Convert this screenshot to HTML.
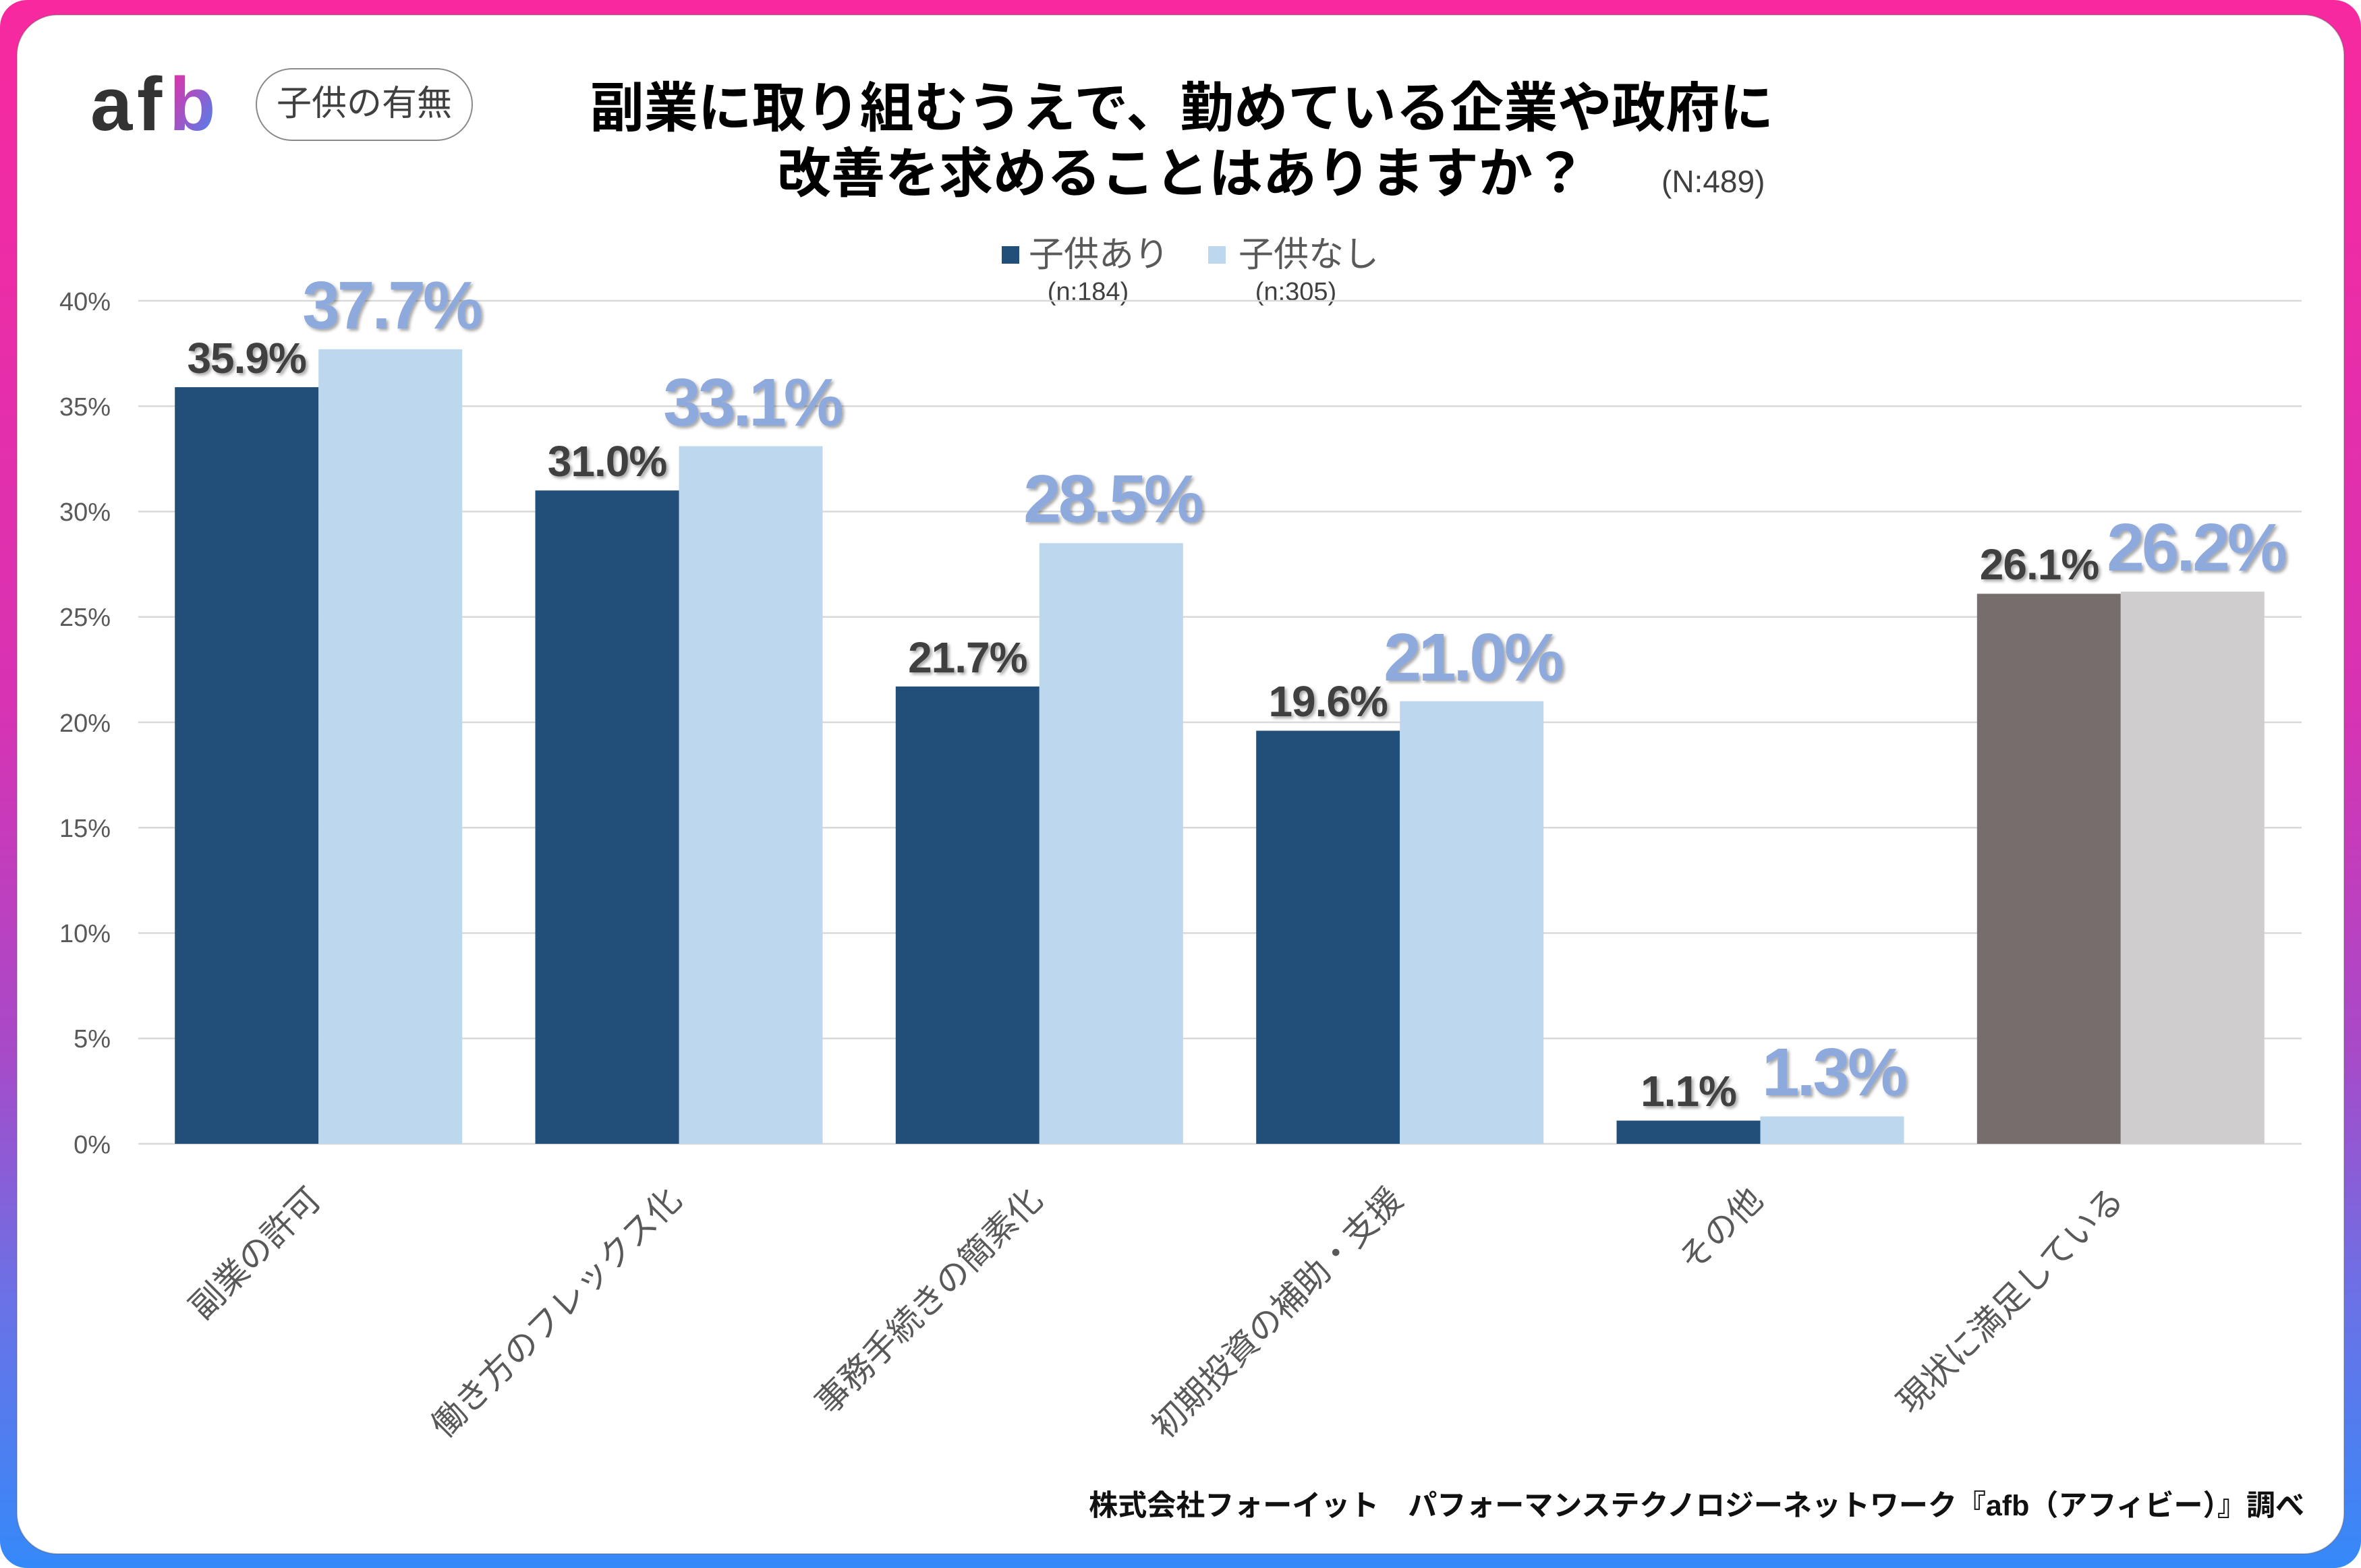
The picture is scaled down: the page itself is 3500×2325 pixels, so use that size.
<!DOCTYPE html>
<html><head><meta charset="utf-8">
<style>
html,body{margin:0;padding:0;background:#fff;}
svg{display:block;}
.jp{font-family:"Liberation Sans","Noto Sans CJK JP",sans-serif;}
.lat{font-family:"Liberation Sans",sans-serif;}
</style></head>
<body>
<svg width="3500" height="2325" viewBox="0 0 3500 2325" xmlns="http://www.w3.org/2000/svg">
<defs>
<linearGradient id="frame" x1="0" y1="0" x2="0" y2="1">
<stop offset="0" stop-color="#f8299f"/>
<stop offset="0.45" stop-color="#d733b3"/>
<stop offset="0.67" stop-color="#a84ac8"/>
<stop offset="0.83" stop-color="#6a72e6"/>
<stop offset="1" stop-color="#3589f9"/>
</linearGradient>
<linearGradient id="bgrad" x1="0" y1="0" x2="1" y2="1">
<stop offset="0" stop-color="#f4279f"/>
<stop offset="1" stop-color="#3d8bf5"/>
</linearGradient>
<filter id="sh" x="-10%" y="-10%" width="130%" height="140%">
<feDropShadow dx="3" dy="3" stdDeviation="2.5" flood-color="#000" flood-opacity="0.35"/>
</filter>
</defs>

<!-- frame -->
<rect x="0" y="0" width="3500" height="2325" rx="40" ry="40" fill="url(#frame)"/>
<rect x="25" y="22" width="3450" height="2282" rx="60" ry="60" fill="#fff" stroke="#555" stroke-opacity="0.35" stroke-width="2"/>

<!-- logo -->
<g class="lat" font-size="112" font-weight="bold" fill="#333">
<text x="134" y="193">a</text>
<text x="203" y="193">f</text>
<text x="251" y="193" fill="url(#bgrad)">b</text>
</g>

<!-- pill -->
<rect x="380" y="102" width="320" height="106" rx="53" ry="53" fill="#fff" stroke="#8a8a8a" stroke-width="2"/>
<text class="jp" x="540" y="171" font-size="52" fill="#404040" text-anchor="middle">子供の有無</text>

<!-- title -->
<g class="jp" font-size="80" font-weight="bold" fill="#000" text-anchor="middle">
<text x="1752" y="188">副業に取り組むうえで、勤めている企業や政府に</text>
<text x="1752" y="285">改善を求めることはありますか？</text>
</g>
<text class="lat" x="2463" y="285" font-size="46" fill="#404040">(N:489)</text>

<!-- legend -->
<rect x="1485" y="365" width="26" height="26" fill="#224f7a"/>
<text class="jp" x="1525" y="395" font-size="52" fill="#595959">子供あり</text>
<rect x="1791" y="365" width="26" height="26" fill="#bdd7ee"/>
<text class="jp" x="1836" y="395" font-size="52" fill="#595959">子供なし</text>
<g class="lat" font-size="38" fill="#404040" text-anchor="middle">
<text x="1613" y="445">(n:184)</text>
<text x="1921" y="445">(n:305)</text>
</g>

<!-- gridlines -->
<g stroke="#d9d9d9" stroke-width="2.5">
<line x1="205" x2="3412" y1="446" y2="446"/>
<line x1="205" x2="3412" y1="602.25" y2="602.25"/>
<line x1="205" x2="3412" y1="758.5" y2="758.5"/>
<line x1="205" x2="3412" y1="914.75" y2="914.75"/>
<line x1="205" x2="3412" y1="1071" y2="1071"/>
<line x1="205" x2="3412" y1="1227.25" y2="1227.25"/>
<line x1="205" x2="3412" y1="1383.5" y2="1383.5"/>
<line x1="205" x2="3412" y1="1539.75" y2="1539.75"/>
<line x1="205" x2="3412" y1="1696" y2="1696"/>
</g>

<!-- y tick labels -->
<g class="lat" font-size="38" fill="#595959" text-anchor="end">
<text x="164" y="460">40%</text>
<text x="164" y="616">35%</text>
<text x="164" y="772">30%</text>
<text x="164" y="928">25%</text>
<text x="164" y="1085">20%</text>
<text x="164" y="1241">15%</text>
<text x="164" y="1397">10%</text>
<text x="164" y="1553">5%</text>
<text x="164" y="1710">0%</text>
</g>

<!-- bars -->
<g>
<rect x="259.2" y="574.1" width="213" height="1121.9" fill="#224f7a"/>
<rect x="472.2" y="517.9" width="213" height="1178.1" fill="#bdd7ee"/>
<rect x="793.5" y="727.25" width="213" height="968.75" fill="#224f7a"/>
<rect x="1006.5" y="661.6" width="213" height="1034.4" fill="#bdd7ee"/>
<rect x="1327.8" y="1017.9" width="213" height="678.1" fill="#224f7a"/>
<rect x="1540.8" y="805.4" width="213" height="890.6" fill="#bdd7ee"/>
<rect x="1862.2" y="1083.5" width="213" height="612.5" fill="#224f7a"/>
<rect x="2075.2" y="1039.75" width="213" height="656.25" fill="#bdd7ee"/>
<rect x="2396.5" y="1661.6" width="213" height="34.4" fill="#224f7a"/>
<rect x="2609.5" y="1655.4" width="213" height="40.6" fill="#bdd7ee"/>
<rect x="2930.8" y="880.4" width="213" height="815.6" fill="#766e6d"/>
<rect x="3143.8" y="877.25" width="213" height="818.75" fill="#d0cdce"/>
</g>

<!-- data labels -->
<g class="lat" font-weight="bold" text-anchor="middle" filter="url(#sh)">
<g font-size="64" fill="#404040" letter-spacing="-1">
<text x="365.7" y="553">35.9%</text>
<text x="900" y="706">31.0%</text>
<text x="1434.3" y="997">21.7%</text>
<text x="1968.7" y="1062">19.6%</text>
<text x="2503" y="1640">1.1%</text>
<text x="3023" y="859">26.1%</text>
</g>
<g font-size="100" fill="#8eaadc" letter-spacing="-4">
<text x="580" y="487">37.7%</text>
<text x="1115" y="631">33.1%</text>
<text x="1649" y="774">28.5%</text>
<text x="2183" y="1009">21.0%</text>
<text x="2718" y="1624">1.3%</text>
<text x="3255" y="846">26.2%</text>
</g>
</g>

<!-- x labels -->
<g class="jp" font-size="50" fill="#595959" text-anchor="end" dominant-baseline="central">
<text x="467" y="1770" transform="rotate(-45 467 1770)">副業の許可</text>
<text x="1001" y="1770" transform="rotate(-45 1001 1770)">働き方のフレックス化</text>
<text x="1536" y="1770" transform="rotate(-45 1536 1770)">事務手続きの簡素化</text>
<text x="2070" y="1770" transform="rotate(-45 2070 1770)">初期投資の補助・支援</text>
<text x="2604" y="1770" transform="rotate(-45 2604 1770)">その他</text>
<text x="3139" y="1770" transform="rotate(-45 3139 1770)">現状に満足している</text>
</g>

<!-- footer -->
<text class="jp" x="3416" y="2247" font-size="43" font-weight="bold" fill="#111" text-anchor="end">株式会社フォーイット　パフォーマンステクノロジーネットワーク『afb（アフィビー）』調べ</text>
</svg>
</body></html>
